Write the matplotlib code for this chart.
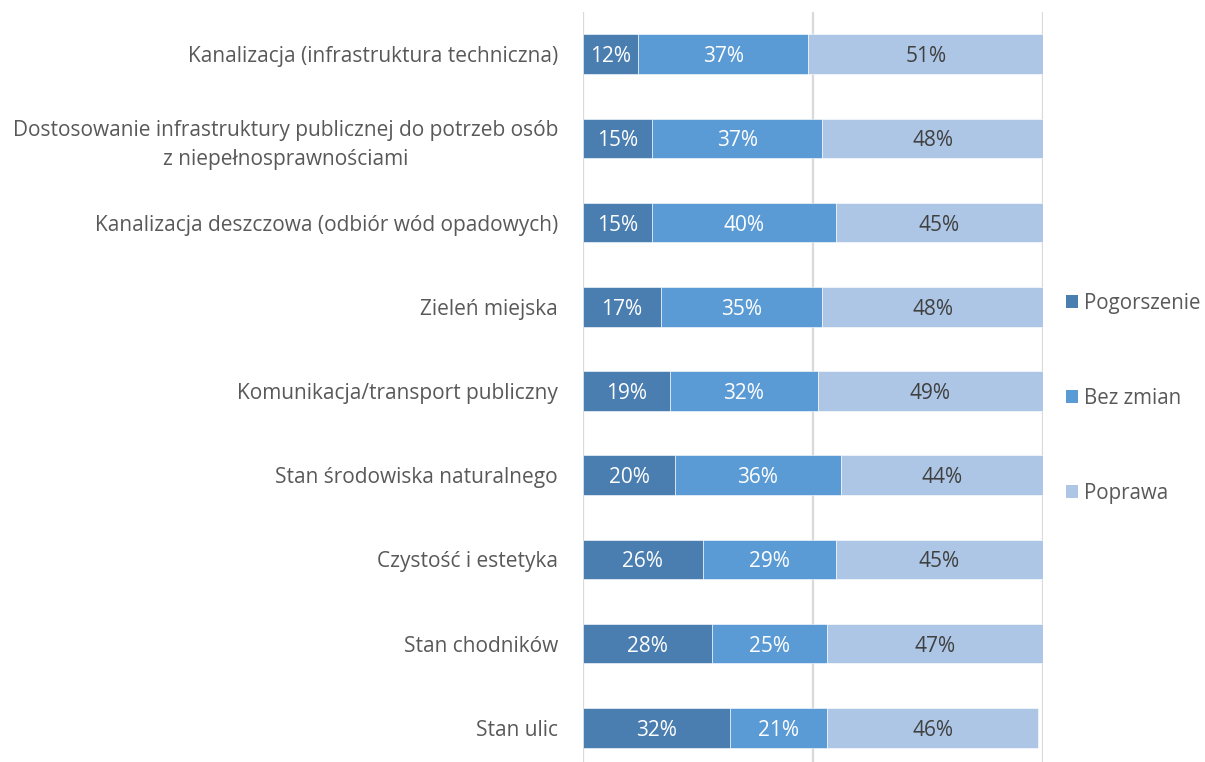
import matplotlib.pyplot as plt
from matplotlib.patches import Patch

plt.rcParams['font.family'] = ['Open Sans', 'DejaVu Sans']

categories = [
    "Kanalizacja (infrastruktura techniczna)",
    "Dostosowanie infrastruktury publicznej do potrzeb osób\nz niepełnosprawnościami",
    "Kanalizacja deszczowa (odbiór wód opadowych)",
    "Zieleń miejska",
    "Komunikacja/transport publiczny",
    "Stan środowiska naturalnego",
    "Czystość i estetyka",
    "Stan chodników",
    "Stan ulic",
]
pogorszenie = [12, 15, 15, 17, 19, 20, 26, 28, 32]
bez_zmian = [37, 37, 40, 35, 32, 36, 29, 25, 21]
poprawa = [51, 48, 45, 48, 49, 44, 45, 47, 46]
series_names = ["Pogorszenie", "Bez zmian", "Poprawa"]
colors = ["#4a7eb0", "#5b9bd5", "#adc6e5"]
text_colors = ["white", "white", "#404040"]

W, H = 1205, 762
fig = plt.figure(figsize=(W / 100, H / 100), dpi=100)
ax = fig.add_axes([583 / W, -8 / H, (1043 - 583) / W, (770 - 12) / H])

n = len(categories)
ypos = [n - 1 - i for i in range(n)]
series = [pogorszenie, bez_zmian, poprawa]
left = [0] * n
for vals, col, tcol in zip(series, colors, text_colors):
    ax.barh(ypos, vals, left=left, height=0.47, color=col,
            edgecolor="white", linewidth=0.4, zorder=3)
    for y, l, v in zip(ypos, left, vals):
        ax.text(l + v / 2, y, f"{v}%", ha="center", va="center_baseline",
                color=tcol, fontsize=15, zorder=4)
    left = [a + b for a, b in zip(left, vals)]

ax.set_xlim(0, 100)
ax.set_ylim(-0.5, n - 0.5)
ax.set_xticks([0, 50, 100])
ax.xaxis.grid(True, color="#d9d9d9", linewidth=1.6, zorder=0)
ax.tick_params(axis="x", length=0, labelbottom=False)
ax.tick_params(axis="y", length=0, pad=18)
ax.set_yticks(ypos)
ax.set_yticklabels(categories, fontsize=15, color="#595959",
                   linespacing=1.5)
for lbl in ax.get_yticklabels():
    lbl.set_horizontalalignment("right")
    lbl.set_multialignment("center")
for s in ax.spines.values():
    s.set_visible(False)

handles = [Patch(facecolor=c, edgecolor="none") for c in colors]
leg = fig.legend(handles, series_names, loc="center left",
                 bbox_to_anchor=(1047 / W, 1 - 398 / H), frameon=False,
                 fontsize=14.8, labelspacing=3.6, handlelength=0.6,
                 handleheight=0.6, handletextpad=0.3)
for t in leg.get_texts():
    t.set_color("#595959")

fig.savefig("out.png", dpi=100)
